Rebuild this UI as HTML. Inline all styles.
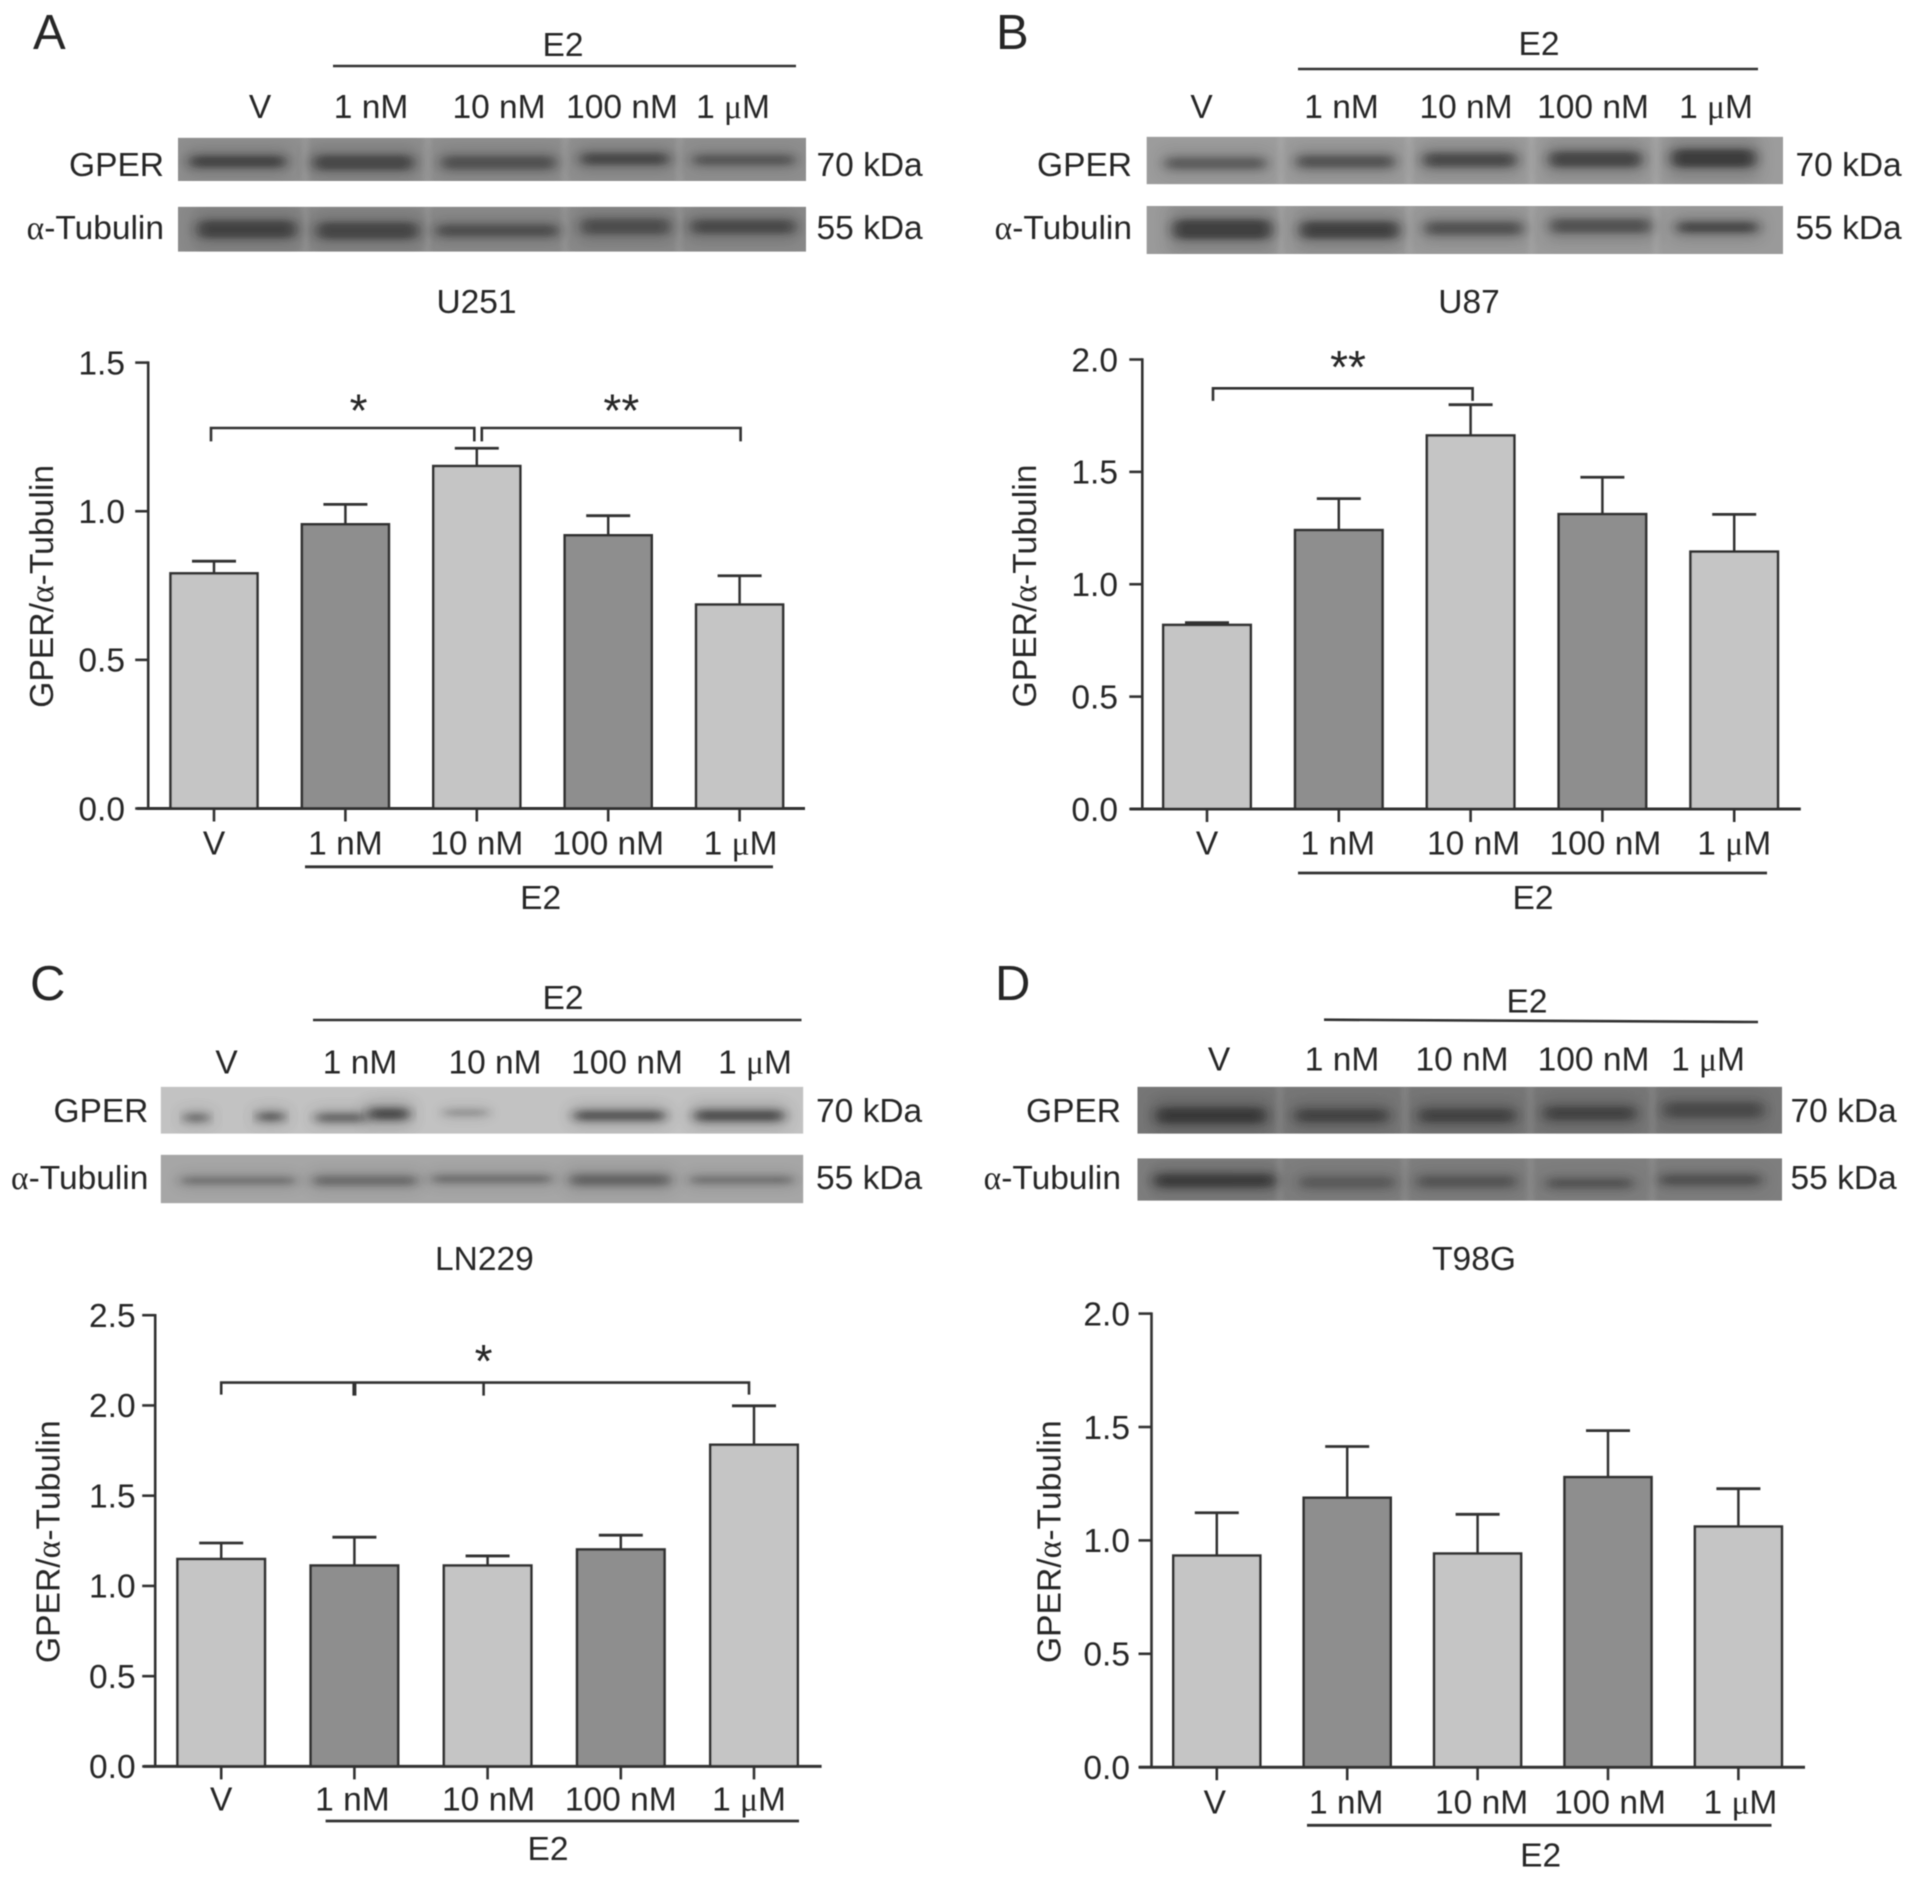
<!DOCTYPE html>
<html lang="en">
<head>
<meta charset="utf-8">
<title>GPER expression in glioma cell lines treated with E2</title>
<style>
html,body{margin:0;padding:0;background:#fff;width:1913px;height:1878px;overflow:hidden}
svg{display:block}
text{font-family:"Liberation Sans","DejaVu Sans",sans-serif;fill:#282828}
.serif{font-family:"Liberation Serif","DejaVu Serif",serif}
</style>
</head>
<body>
<svg id="figure" xmlns="http://www.w3.org/2000/svg" width="1913" height="1878" viewBox="0 0 1913 1878">
  <defs>
    <filter id="soft" x="-1%" y="-1%" width="102%" height="102%"><feGaussianBlur stdDeviation="0.6"/></filter>
    <filter id="bandBlur" x="-20%" y="-150%" width="140%" height="400%"><feGaussianBlur stdDeviation="6 3.2"/></filter>
    <filter id="haloBlur" x="-30%" y="-120%" width="160%" height="340%"><feGaussianBlur stdDeviation="8 6"/></filter>
    <filter id="gapBlur" x="-200%" y="-10%" width="500%" height="120%"><feGaussianBlur stdDeviation="3 0.5"/></filter>
  </defs>
  <g id="root" filter="url(#soft)"></g>
</svg>
<script>
// ---- Chart data ----
const categories = ["V", "1 nM", "10 nM", "100 nM", "1 μM"];

const yTicksA = ["0.0", "0.5", "1.0", "1.5"];
const barValuesA = [0.791, 0.956, 1.152, 0.919, 0.686];
const errorValuesA = [0.041, 0.067, 0.060, 0.066, 0.097];

const yTicksB = ["0.0", "0.5", "1.0", "1.5", "2.0"];
const barValuesB = [0.819, 1.241, 1.662, 1.312, 1.145];
const errorValuesB = [0.010, 0.140, 0.137, 0.164, 0.166];

const yTicksC = ["0.0", "0.5", "1.0", "1.5", "2.0", "2.5"];
const barValuesC = [1.149, 1.113, 1.113, 1.202, 1.782];
const errorValuesC = [0.089, 0.157, 0.053, 0.079, 0.216];

const yTicksD = ["0.0", "0.5", "1.0", "1.5", "2.0"];
const barValuesD = [0.933, 1.188, 0.942, 1.279, 1.061];
const errorValuesD = [0.189, 0.226, 0.173, 0.205, 0.167];

// Significance brackets: category indices and level in axis units
const bracketsA = [
  {from: 0, to: 2, level: 1.28, low: 1.235, stars: "*", starAt: 1.10},
  {from: 2, to: 4, level: 1.28, low: 1.235, stars: "**", starAt: 3.10}
];
const bracketsB = [
  {from: 0, to: 2, level: 1.872, low: 1.816, stars: "**", starAt: 1.07}
];
const bracketsC = [
  {from: 0, to: 4, level: 2.127, low: 2.06, stars: "*", starAt: 1.97, inner: [1, 2]}
];
const bracketsD = [];

// ---- Panel layout (pixels) ----
const panels = [
 {id:"a", letter:"A", lx:33, ly:49, ox:0, oy:0,
  ticks:yTicksA, values:barValuesA, errors:errorValuesA, brackets:bracketsA,
  bracketEnds:[[-3,-2.5],[5,1]], starGap:23,
  axisX:148.2, y0:808.5, yTop:362.6, baseL:137, baseR:805, first:214, step:131.4, barW:87,
  titleX:41, titleY:586.4, tickRight:125, xLabelY:854.5,
  xLabelOff:[0,0,0,0,1], ruleX:[305,773], ruleY:866.8, e2x:540.6, e2y:909,
  topE2x:563, topE2y:56, topRule:[333,66,796,66], laneY:118, laneX:[260,371,499,622,733],
  nameRight:164, gperY:176, tubY:239, kdaX:816.5, kdaGperY:176, kdaTubY:239,
  cell:"U251", cellX:476.5, cellY:313,
  blot1:[178,137.7,806,181,"#8f8f8f"], blot2:[178,206.7,806,251.7,"#8a8a8a"],
  gaps:[500,700,925,1112],
  bands1:[[308,470,485,30,.85],[510,680,488,38,.8],[720,912,488,34,.68],[948,1097,477,30,.8],[1132,1303,480,26,.62]],
  bands2:[[320,488,688,44,.85],[515,688,692,42,.8],[712,916,692,30,.7],[948,1100,680,40,.7],[1128,1305,680,36,.75]]},
 {id:"b", letter:"B", lx:996, ly:49, ox:956, oy:0,
  ticks:yTicksB, values:barValuesB, errors:errorValuesB, brackets:bracketsB,
  bracketEnds:[[6,2]], starGap:27,
  axisX:1142.3, y0:809, yTop:359.5, baseL:1130, baseR:1800.8, first:1207, step:131.8, barW:87.5,
  titleX:1024.4, titleY:586, tickRight:1118, xLabelY:854.5,
  xLabelOff:[0,-1,3,3,0], ruleX:[1298,1767], ruleY:873, e2x:1533, e2y:909,
  topE2x:1539, topE2y:55, topRule:[1298,69,1758,69], laneY:118, laneX:[1201.6,1341.5,1466,1593,1716],
  nameRight:1132, gperY:176, tubY:239, kdaX:1795.5, kdaGperY:176, kdaTubY:239,
  cell:"U87", cellX:1469, cellY:313,
  blot1:[1146.6,136.7,1783,184.3,"#9c9c9c"], blot2:[1146.6,206,1783,254,"#9a9a9a"],
  gaps:[532,742,942,1146],
  bands1:[[340,510,490,30,.62],[555,720,485,32,.72],[762,920,480,36,.82],[968,1125,478,40,.88],[1168,1312,475,46,1]],
  bands2:[[352,520,688,50,.95],[560,728,690,44,.92],[765,930,685,34,.72],[970,1140,678,36,.72],[1178,1315,682,28,.85]]},
 {id:"c", letter:"C", lx:30, ly:1000, ox:0, oy:950,
  ticks:yTicksC, values:barValuesC, errors:errorValuesC, brackets:bracketsC,
  bracketEnds:[[0,-5]], starGap:27,
  axisX:155.2, y0:1766.4, yTop:1315.2, baseL:143.6, baseR:821.6, first:221.2, step:133.2, barW:87.5,
  titleX:47.6, titleY:1541.7, tickRight:135.6, xLabelY:1810.4,
  xLabelOff:[0,-2,1,0,-5], ruleX:[325.6,799], ruleY:1821, e2x:548, e2y:1860,
  topE2x:563, topE2y:1009, topRule:[313,1020,801.5,1020], laneY:1073.3, laneX:[226.5,360,495,627,755],
  nameRight:148.4, gperY:1122, tubY:1189, kdaX:816, kdaGperY:1122, kdaTubY:1189,
  cell:"LN229", cellX:484.4, cellY:1270,
  blot1:[160.7,1086.7,803.3,1133.7,"#c2c2c2"], blot2:[160.7,1154.7,803.3,1203.3,"#a6a6a6"],
  gaps:[],
  bands1:[[298,345,503,22,.62],[418,468,500,22,.78],[515,600,503,22,.72],[600,672,492,30,.95],[725,800,488,14,.42],[938,1090,497,24,.88],[1135,1285,497,28,.92]],
  bands2:[[295,485,692,18,.5],[510,685,692,24,.55],[705,905,687,18,.55],[930,1100,690,28,.6],[1128,1300,690,18,.5]]},
 {id:"d", letter:"D", lx:995, ly:1000, ox:956, oy:950,
  ticks:yTicksD, values:barValuesD, errors:errorValuesD, brackets:bracketsD,
  bracketEnds:[], starGap:0,
  axisX:1151.5, y0:1767.2, yTop:1313.6, baseL:1139, baseR:1805, first:1216.8, step:130.4, barW:87,
  titleX:1048.9, titleY:1541.7, tickRight:1130, xLabelY:1813.4,
  xLabelOff:[-2,-1,4,2,2], ruleX:[1307,1771.5], ruleY:1825.3, e2x:1540.6, e2y:1866.5,
  topE2x:1527, topE2y:1012.7, topRule:[1324,1019.7,1758,1022], laneY:1070.7, laneX:[1219,1342,1462,1593.5,1708],
  nameRight:1121, gperY:1122, tubY:1189, kdaX:1790.5, kdaGperY:1122, kdaTubY:1189,
  cell:"T98G", cellX:1474, cellY:1270,
  blot1:[1137.4,1086.7,1782,1133.7,"#767676"], blot2:[1137.4,1158.3,1782,1200.7,"#7e7e7e"],
  gaps:[530,735,940,1140],
  bands1:[[325,510,497,40,.88],[553,710,497,34,.72],[755,918,497,36,.72],[960,1115,490,36,.72],[1155,1325,480,40,.6]],
  bands2:[[322,525,692,34,.88],[560,720,697,30,.45],[752,920,695,30,.5],[965,1110,700,24,.55],[1150,1320,690,26,.6]]}
];

const SVGNS = "http://www.w3.org/2000/svg";
const INK = "#333333";
const TEXT_SIZE = 33.5;

function make(tag, attrs, parent) {
  const el = document.createElementNS(SVGNS, tag);
  for (const k in attrs) el.setAttribute(k, attrs[k]);
  parent.appendChild(el);
  return el;
}

function fillText(el, str) {
  // Greek letters are set in the serif face, as in the figure
  str.split(/([αμ])/).forEach(function (part) {
    if (!part) return;
    if (part === "α" || part === "μ") {
      const t = document.createElementNS(SVGNS, "tspan");
      t.setAttribute("class", "serif");
      t.textContent = part;
      el.appendChild(t);
    } else {
      el.appendChild(document.createTextNode(part));
    }
  });
}

function label(parent, str, x, y, size, anchor, name) {
  const el = make("text", {x: x, y: y, "font-size": size, "text-anchor": anchor}, parent);
  
  
  fillText(el, str);
  return el;
}

function segment(parent, x1, y1, x2, y2, w, name) {
  const el = make("line", {x1: x1, y1: y1, x2: x2, y2: y2, stroke: INK, "stroke-width": w}, parent);
  
  
  return el;
}

function drawBlot(g, p, box, bands, key) {
  const clipId = "clip-" + p.id + "-" + key;
  const clip = make("clipPath", {id: clipId}, g);
  make("rect", {x: box[0], y: box[1], width: box[2] - box[0], height: box[3] - box[1]}, clip);
  const blot = make("g", {"clip-path": "url(#" + clipId + ")"}, g);
  
  
  make("rect", {x: box[0], y: box[1], width: box[2] - box[0], height: box[3] - box[1], fill: box[4]}, blot);
  p.gaps.forEach(function (gx) {
    const lane = make("rect", {x: gx / 1.637 + p.ox - 3, y: box[1], width: 6, height: box[3] - box[1], fill: "#ffffff", opacity: .1, filter: "url(#gapBlur)"}, blot);
    
    
  });
  bands.forEach(function (b) {
    const x = b[0] / 1.637 + p.ox, w = (b[1] - b[0]) / 1.637;
    const cy = b[2] / 3 + p.oy, t = b[3] / 3;
    make("rect", {x: x - 2, y: cy - t * 1.4, width: w + 4, height: t * 2.8, rx: 6, fill: "#1e1e1e", opacity: b[4] * .2, filter: "url(#haloBlur)"}, blot);
    const band = make("rect", {x: x + 2, y: cy - t * .6, width: w - 4, height: t * 1.2, rx: t / 2, fill: "#1e1e1e", opacity: b[4] * .68, filter: "url(#bandBlur)"}, blot);
    
    
  });
}

function drawPanel(p) {
  const root = document.getElementById("root");
  const g = make("g", {}, root);
  
  

  // Axis functions
  const yMax = parseFloat(p.ticks[p.ticks.length - 1]);
  const yScale = function (v) { return p.y0 - (v / yMax) * (p.y0 - p.yTop); };
  const xScale = function (i) { return p.first + p.step * i; };

  label(g, p.letter, p.lx, p.ly, 49, "start", 'panel-letter');

  // Blot header
  label(g, "E2", p.topE2x, p.topE2y, TEXT_SIZE, "middle", 'blot-e2-label');
  segment(g, p.topRule[0], p.topRule[1], p.topRule[2], p.topRule[3], 2.6, 'blot-e2-rule');
  categories.forEach(function (c, i) {
    label(g, c, p.laneX[i], p.laneY, TEXT_SIZE, "middle", 'blot-lane-label');
  });
  drawBlot(g, p, p.blot1, p.bands1, "gper");
  drawBlot(g, p, p.blot2, p.bands2, "tub");
  label(g, "GPER", p.nameRight, p.gperY, TEXT_SIZE, "end", 'gper-row-label');
  label(g, "α-Tubulin", p.nameRight, p.tubY, TEXT_SIZE, "end", 'tubulin-row-label');
  label(g, "70 kDa", p.kdaX, p.kdaGperY, TEXT_SIZE, "start", 'gper-size-label');
  label(g, "55 kDa", p.kdaX, p.kdaTubY, TEXT_SIZE, "start", 'tubulin-size-label');
  label(g, p.cell, p.cellX, p.cellY, TEXT_SIZE, "middle", 'cell-line-title');

  // Error bars sit behind the bars
  p.values.forEach(function (v, i) {
    const cx = xScale(i), top = yScale(v + p.errors[i]);
    const err = make("g", {}, g);
    
    
    make("line", {x1: cx, y1: yScale(v), x2: cx, y2: top, stroke: INK, "stroke-width": 2.5}, err);
    make("line", {x1: cx - 22, y1: top, x2: cx + 22, y2: top, stroke: INK, "stroke-width": 2.8}, err);
  });

  // Bars
  p.values.forEach(function (v, i) {
    const bar = make("rect", {
      x: xScale(i) - p.barW / 2, y: yScale(v), width: p.barW, height: p.y0 - yScale(v),
      fill: i % 2 ? "#8e8e8e" : "#c5c5c5", stroke: INK, "stroke-width": 2.6
    }, g);
    
    
  });

  // Axes
  segment(g, p.axisX, p.yTop - 1.2, p.axisX, p.y0, 2.6, 'y-axis');
  segment(g, p.baseL, p.y0, p.baseR, p.y0, 3, 'x-axis');
  p.ticks.forEach(function (t) {
    const y = yScale(parseFloat(t));
    segment(g, p.axisX - 13, y, p.axisX, y, 2.6, 'y-tick');
    label(g, t, p.tickRight, y + 11.8, TEXT_SIZE, "end", 'y-tick-label');
  });
  categories.forEach(function (c, i) {
    segment(g, xScale(i), p.y0, xScale(i), p.y0 + 13, 2.6, 'x-tick');
    label(g, c, xScale(i) + p.xLabelOff[i], p.xLabelY, TEXT_SIZE, "middle", 'x-tick-label');
  });
  segment(g, p.ruleX[0], p.ruleY, p.ruleX[1], p.ruleY, 2.8, 'e2-rule');
  label(g, "E2", p.e2x, p.e2y, TEXT_SIZE, "middle", 'e2-label');

  // Y-axis title
  const title = label(g, "GPER/α-Tubulin", 0, 0, 33.7, "middle", 'y-axis-title');
  title.setAttribute("transform", "translate(" + (p.titleX + 11.8) + "," + p.titleY + ") rotate(-90)");

  // Significance brackets
  p.brackets.forEach(function (b, n) {
    const x1 = xScale(b.from) + p.bracketEnds[n][0];
    const x2 = xScale(b.to) + p.bracketEnds[n][1];
    const yL = yScale(b.level), yD = yScale(b.low);
    const br = make("path", {
      d: "M" + x1 + " " + yD + "V" + yL + "H" + x2 + "V" + yD,
      fill: "none", stroke: INK, "stroke-width": 2.6
    }, g);
    
    
    (b.inner || []).forEach(function (k, j) {
      segment(g, xScale(k) + (j ? -4 : 0), yL, xScale(k) + (j ? -4 : 0), yD + 1, j ? 2.6 : 4, 'bracket-inner-tick');
    });
    label(g, b.stars, xScale(b.starAt), yL - p.starGap + 46 * .47, 46, "middle", 'significance-stars');
  });
}

panels.forEach(drawPanel);
</script>
</body>
</html>
